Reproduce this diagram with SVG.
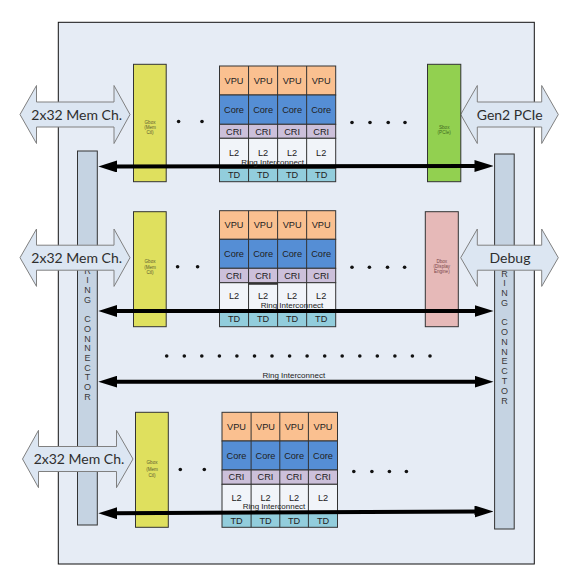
<svg xmlns="http://www.w3.org/2000/svg" width="569" height="575" viewBox="0 0 569 575">
<style>
.frame{fill:#e6ecf5;stroke:#111;stroke-width:1}
.bar{fill:#c5d3e2;stroke:#333;stroke-width:1}
.barT{font-family:"Liberation Sans",Arial,sans-serif;font-size:9px;fill:#3a3a3a;text-anchor:middle}
.blk{fill:#dce6f2;stroke:#808080;stroke-width:1}
.blkT{font-family:Lato,"Open Sans",sans-serif;font-size:14px;fill:#2e2e2e;text-anchor:middle}
.gbox{fill:#dfe05e;stroke:#333;stroke-width:1}
.sbox{fill:#92d050;stroke:#333;stroke-width:1}
.dbox{fill:#e6b9b8;stroke:#333;stroke-width:1}
.tiny{font-family:"Liberation Sans",Arial,sans-serif;font-size:4.6px;text-anchor:middle}
.vpu{fill:#fac090;stroke:#333;stroke-width:1}
.core{fill:#558ed5;stroke:#333;stroke-width:1}
.cri{fill:#ccc0da;stroke:#333;stroke-width:1}
.l2{fill:#f1f4f9;stroke:#333;stroke-width:1}
.td{fill:#92cddc;stroke:#333;stroke-width:1}
.div{stroke:#333;stroke-width:1}
.cell{font-family:"Liberation Sans",Arial,sans-serif;font-size:9.2px;fill:#222;text-anchor:middle}
.dot{fill:#111}
.ring{stroke:#000;stroke-width:4;fill:none;marker-start:url(#ah);marker-end:url(#ah)}
.ringT{font-family:"Liberation Sans",Arial,sans-serif;font-size:8px;fill:#222;text-anchor:middle}
</style>
<defs>
<marker id="ah" viewBox="0 0 19 12" markerWidth="19" markerHeight="12" refX="5" refY="6" orient="auto-start-reverse" markerUnits="userSpaceOnUse">
<path d="M0,0 L19,6 L0,12 z" fill="#000"/>
</marker>
</defs>
<rect width="569" height="575" fill="#fff"/>
<rect id="chip" class="frame" x="58.3" y="22.3" width="476" height="541.7"/>

<g id="ring-connector-left">
<rect class="bar" x="77.5" y="151" width="19.8" height="374"/>
<text class="barT"><tspan x="87.4" y="273.7">R</tspan><tspan x="87.4" dy="9.7">I</tspan><tspan x="87.4" dy="9.7">N</tspan><tspan x="87.4" dy="9.7">G</tspan><tspan x="87.4" dy="19.4">C</tspan><tspan x="87.4" dy="9.7">O</tspan><tspan x="87.4" dy="9.7">N</tspan><tspan x="87.4" dy="9.7">N</tspan><tspan x="87.4" dy="9.7">E</tspan><tspan x="87.4" dy="9.7">C</tspan><tspan x="87.4" dy="9.7">T</tspan><tspan x="87.4" dy="9.7">O</tspan><tspan x="87.4" dy="9.7">R</tspan></text>
</g>
<g id="ring-connector-right">
<rect class="bar" x="494.6" y="154" width="19.6" height="375"/>
<text class="barT"><tspan x="504.4" y="276.5">R</tspan><tspan x="504.4" dy="9.77">I</tspan><tspan x="504.4" dy="9.77">N</tspan><tspan x="504.4" dy="9.77">G</tspan><tspan x="504.4" dy="19.54">C</tspan><tspan x="504.4" dy="9.77">O</tspan><tspan x="504.4" dy="9.77">N</tspan><tspan x="504.4" dy="9.77">N</tspan><tspan x="504.4" dy="9.77">E</tspan><tspan x="504.4" dy="9.77">C</tspan><tspan x="504.4" dy="9.77">T</tspan><tspan x="504.4" dy="9.77">O</tspan><tspan x="504.4" dy="9.77">R</tspan></text>
</g>

<g id="mem-ch-1">
<path class="blk" d="M20,114.5 L36.5,85.5 L36.5,102 L114,102 L114,85.5 L130,114.5 L114,143.5 L114,127 L36.5,127 L36.5,143.5 Z"/>
<text class="blkT" x="76.7" y="119.5">2x32 Mem Ch.</text>
</g>
<g id="mem-ch-2">
<path class="blk" d="M20,257.7 L36.5,229 L36.5,245.2 L114,245.2 L114,229 L130,257.7 L114,286.4 L114,270.2 L36.5,270.2 L36.5,286.4 Z"/>
<text class="blkT" x="76.7" y="262.7">2x32 Mem Ch.</text>
</g>
<g id="mem-ch-3">
<path class="blk" d="M22.5,459 L38.5,430.3 L38.5,446.5 L116.5,446.5 L116.5,430.3 L133,459 L116.5,487.7 L116.5,471.5 L38.5,471.5 L38.5,487.7 Z"/>
<text class="blkT" x="79" y="464">2x32 Mem Ch.</text>
</g>
<g id="gen2-pcie">
<path class="blk" d="M460.7,114.5 L477.3,85.5 L477.3,102 L541.7,102 L541.7,85.5 L558.3,114.5 L541.7,143.5 L541.7,127 L477.3,127 L477.3,143.5 Z"/>
<text class="blkT" x="509.7" y="119.5">Gen2 PCIe</text>
</g>
<g id="debug">
<path class="blk" d="M460.7,257.7 L477.3,229 L477.3,245.2 L541.7,245.2 L541.7,229 L558.3,257.7 L541.7,286.4 L541.7,270.2 L477.3,270.2 L477.3,286.4 Z"/>
<text class="blkT" x="510" y="262.7">Debug</text>
</g>

<g id="gbox-1">
<rect class="gbox" x="133.5" y="64.3" width="32.7" height="117.4"/>
<text class="tiny" fill="#5c5c30"><tspan x="150" y="124.3">Gbox</tspan><tspan x="150" dy="5">(Mem</tspan><tspan x="150" dy="5">Ctl)</tspan></text>
</g>
<g id="gbox-2">
<rect class="gbox" x="133.5" y="211.7" width="32.7" height="115"/>
<text class="tiny" fill="#5c5c30"><tspan x="150" y="263.3">Gbox</tspan><tspan x="150" dy="5.5">(Mem</tspan><tspan x="150" dy="5.5">Ctl)</tspan></text>
</g>
<g id="gbox-3">
<rect class="gbox" x="135.5" y="412.3" width="32.8" height="115"/>
<text class="tiny" fill="#5c5c30"><tspan x="152" y="464.3">Gbox</tspan><tspan x="152" dy="6.5">(Mem</tspan><tspan x="152" dy="6.5">Ctl)</tspan></text>
</g>
<g id="sbox">
<rect class="sbox" x="427.5" y="64.3" width="33.3" height="117.4"/>
<text class="tiny" fill="#3e6a1e"><tspan x="444.2" y="129.3">Sbox</tspan><tspan x="444.2" dy="4.6">(PCIe)</tspan></text>
</g>
<g id="dbox">
<rect class="dbox" x="425.3" y="211.7" width="33" height="115"/>
<text class="tiny" fill="#7a4848"><tspan x="441.8" y="263.3">Dbox</tspan><tspan x="441.8" dy="5">(Display</tspan><tspan x="441.8" dy="5">Engine)</tspan></text>
</g>

<g id="tile-1" transform="translate(219.5,66)">
<rect class="vpu" x="0" y="0" width="116.2" height="29"/>
<rect class="core" x="0" y="29" width="116.2" height="29.3"/>
<rect class="cri" x="0" y="58.3" width="116.2" height="14"/>
<rect class="l2" x="0" y="72.3" width="116.2" height="30"/>
<rect class="td" x="0" y="102.3" width="116.2" height="13.4"/>
<path class="div" d="M29.05,0V115.7M58.1,0V115.7M87.15,0V115.7"/>
<g class="cell">
<text x="14.5" y="17.8">VPU</text><text x="43.6" y="17.8">VPU</text><text x="72.6" y="17.8">VPU</text><text x="101.7" y="17.8">VPU</text>
<text x="14.5" y="47">Core</text><text x="43.6" y="47">Core</text><text x="72.6" y="47">Core</text><text x="101.7" y="47">Core</text>
<text x="14.5" y="68.6">CRI</text><text x="43.6" y="68.6">CRI</text><text x="72.6" y="68.6">CRI</text><text x="101.7" y="68.6">CRI</text>
<text x="14.5" y="90">L2</text><text x="43.6" y="90">L2</text><text x="72.6" y="90">L2</text><text x="101.7" y="90">L2</text>
<text x="14.5" y="112.3">TD</text><text x="43.6" y="112.3">TD</text><text x="72.6" y="112.3">TD</text><text x="101.7" y="112.3">TD</text>
</g>
</g>
<g id="tile-2" transform="translate(219.5,210.7)">
<rect class="vpu" x="0" y="0" width="116.2" height="28.6"/>
<rect class="core" x="0" y="28.6" width="116.2" height="29"/>
<rect class="cri" x="0" y="57.6" width="116.2" height="14.4"/>
<rect class="l2" x="0" y="72" width="116.2" height="29"/>
<rect class="td" x="0" y="101" width="116.2" height="15"/>
<path class="div" d="M29.05,0V116M58.1,0V116M87.15,0V116"/>
<path d="M29.05,73.2H58.1" stroke="#222" stroke-width="1.6"/>
<g class="cell">
<text x="14.5" y="17.6">VPU</text><text x="43.6" y="17.6">VPU</text><text x="72.6" y="17.6">VPU</text><text x="101.7" y="17.6">VPU</text>
<text x="14.5" y="46.4">Core</text><text x="43.6" y="46.4">Core</text><text x="72.6" y="46.4">Core</text><text x="101.7" y="46.4">Core</text>
<text x="14.5" y="68.1">CRI</text><text x="43.6" y="68.1">CRI</text><text x="72.6" y="68.1">CRI</text><text x="101.7" y="68.1">CRI</text>
<text x="14.5" y="88.8">L2</text><text x="43.6" y="88.8">L2</text><text x="72.6" y="88.8">L2</text><text x="101.7" y="88.8">L2</text>
<text x="14.5" y="111.8">TD</text><text x="43.6" y="111.8">TD</text><text x="72.6" y="111.8">TD</text><text x="101.7" y="111.8">TD</text>
</g>
</g>
<g id="tile-3" transform="translate(222,412.3)">
<rect class="vpu" x="0" y="0" width="115.5" height="28.7"/>
<rect class="core" x="0" y="28.7" width="115.5" height="29"/>
<rect class="cri" x="0" y="57.7" width="115.5" height="14.3"/>
<rect class="l2" x="0" y="72" width="115.5" height="29"/>
<rect class="td" x="0" y="101" width="115.5" height="14"/>
<path class="div" d="M29.1,0V115M57.8,0V115M86.4,0V115"/>
<g class="cell">
<text x="14.5" y="17.6">VPU</text><text x="43.5" y="17.6">VPU</text><text x="72.1" y="17.6">VPU</text><text x="101" y="17.6">VPU</text>
<text x="14.5" y="46.4">Core</text><text x="43.5" y="46.4">Core</text><text x="72.1" y="46.4">Core</text><text x="101" y="46.4">Core</text>
<text x="14.5" y="68">CRI</text><text x="43.5" y="68">CRI</text><text x="72.1" y="68">CRI</text><text x="101" y="68">CRI</text>
<text x="14.5" y="88.8">L2</text><text x="43.5" y="88.8">L2</text><text x="72.1" y="88.8">L2</text><text x="101" y="88.8">L2</text>
<text x="14.5" y="111.3">TD</text><text x="43.5" y="111.3">TD</text><text x="72.1" y="111.3">TD</text><text x="101" y="111.3">TD</text>
</g>
</g>

<g id="ellipses">
<circle class="dot" cx="178.6" cy="121.5" r="1.8"/><circle class="dot" cx="202" cy="121.5" r="1.8"/>
<circle class="dot" cx="352" cy="122.5" r="1.8"/><circle class="dot" cx="370" cy="122.5" r="1.8"/><circle class="dot" cx="388.2" cy="122.5" r="1.8"/><circle class="dot" cx="405" cy="122.5" r="1.8"/>
<circle class="dot" cx="177.6" cy="266.8" r="1.8"/><circle class="dot" cx="197.6" cy="266.8" r="1.8"/>
<circle class="dot" cx="352" cy="267.3" r="1.8"/><circle class="dot" cx="369.4" cy="267.3" r="1.8"/><circle class="dot" cx="387.5" cy="267.3" r="1.8"/><circle class="dot" cx="404.6" cy="267.3" r="1.8"/>
<circle class="dot" cx="180.3" cy="469.5" r="1.8"/><circle class="dot" cx="204.3" cy="469.5" r="1.8"/>
<circle class="dot" cx="353.8" cy="471.5" r="1.8"/><circle class="dot" cx="371.9" cy="471.5" r="1.8"/><circle class="dot" cx="389.4" cy="471.5" r="1.8"/><circle class="dot" cx="406.4" cy="471.5" r="1.8"/>
<circle class="dot" cx="166.7" cy="356" r="1.8"/><circle class="dot" cx="184.3" cy="356" r="1.8"/><circle class="dot" cx="201.8" cy="356" r="1.8"/><circle class="dot" cx="219.4" cy="356" r="1.8"/><circle class="dot" cx="236.9" cy="356" r="1.8"/><circle class="dot" cx="254.5" cy="356" r="1.8"/><circle class="dot" cx="272" cy="356" r="1.8"/><circle class="dot" cx="289.6" cy="356" r="1.8"/><circle class="dot" cx="307.1" cy="356" r="1.8"/><circle class="dot" cx="324.7" cy="356" r="1.8"/><circle class="dot" cx="342.2" cy="356" r="1.8"/><circle class="dot" cx="359.8" cy="356" r="1.8"/><circle class="dot" cx="377.3" cy="356" r="1.8"/><circle class="dot" cx="394.9" cy="356" r="1.8"/><circle class="dot" cx="412.4" cy="356" r="1.8"/><circle class="dot" cx="430" cy="356" r="1.8"/>
</g>

<g id="connectors">
<line class="ring" x1="112.3" y1="166.5" x2="479.5" y2="166"/>
<text class="ringT" x="272.7" y="164.6">Ring Interconnect</text>
<line class="ring" x1="112.3" y1="311" x2="479.5" y2="311"/>
<text class="ringT" x="292" y="308.3">Ring Interconnect</text>
<line class="ring" x1="112.3" y1="381.7" x2="479.5" y2="381.7"/>
<text class="ringT" x="293.8" y="378">Ring Interconnect</text>
<line class="ring" x1="112.3" y1="513.3" x2="479.5" y2="511.5"/>
<text class="ringT" x="274" y="509.3">Ring Interconnect</text>
</g>
</svg>
